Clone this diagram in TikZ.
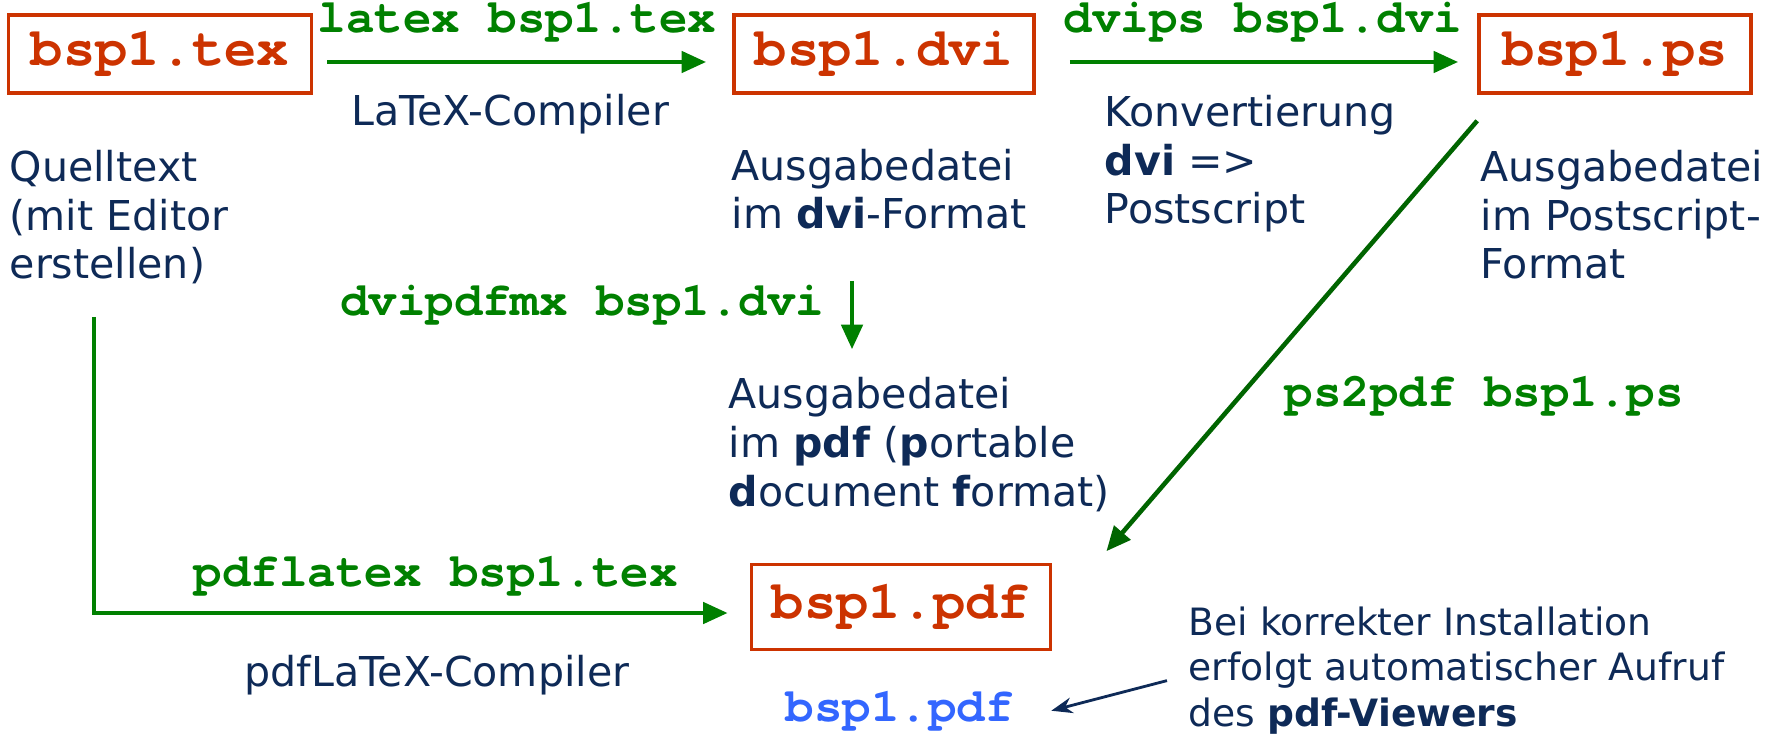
\documentclass[tikz,border=0pt]{standalone}
\usepackage{fontspec}
\setmainfont{DejaVu Sans}
\newfontfamily\cmdfont{texgyrecursor}[Extension=.otf,UprightFont=*-regular,BoldFont=*-bold,Ligatures=NoCommon]
\usetikzlibrary{arrows}
\usetikzlibrary{arrows.meta}
\definecolor{fileRed}{RGB}{204,51,0}
\definecolor{cmdGreen}{RGB}{0,128,0}
\definecolor{psGreen}{RGB}{0,100,0}
\definecolor{descNavy}{RGB}{14,42,87}
\definecolor{viewBlue}{RGB}{51,102,255}
\tikzset{%
	file/.style={draw=fileRed,line width=1pt,text=fileRed,inner sep=0pt,minimum height=0.78cm,font=\cmdfont\bfseries\fontsize{15.3}{18}\selectfont},
	cmd/.style={text=cmdGreen,inner sep=0pt,font=\cmdfont\bfseries\fontsize{13.5}{16}\selectfont},
	desc/.style={text=descNavy,inner sep=0pt,align=left,anchor=base west,font=\fontsize{11.7}{13.9}\selectfont},
	flow/.style={draw=cmdGreen,line width=1.3pt,-{Triangle[length=7pt,width=6pt]}},
	pointer/.style={draw=descNavy,line width=0.8pt,-{Stealth[length=6pt,width=4.5pt]}},
}
\begin{document}
\begin{tikzpicture}[x=0.01cm,y=-0.01cm]
	\useasboundingbox (0,0) rectangle (1777,734);
	
	%dateien
	\node[file,minimum width=3.03cm] (tex) at (160,54) {bsp1.tex};
	\node[file,minimum width=3.00cm] (dvi) at (884,54) {bsp1.dvi};
	\node[file,minimum width=2.72cm] (ps) at (1615,54) {bsp1.ps};
	\node[file,minimum width=2.99cm,minimum height=0.85cm] (pdf) at (901,607) {bsp1.pdf};
	
	%beschreibungen (base = letzte zeile)
	\node[desc] (texdesc) at (9,279) {Quelltext\\(mit Editor\\erstellen)};
	\node[desc] (dvidesc) at (731,229) {Ausgabedatei\\im \textbf{dvi}-Format};
	\node[desc] (psdesc) at (1480,279) {Ausgabedatei\\im Postscript-\\Format};
	\node[desc] (convdesc) at (1104,224) {Konvertierung\\\textbf{dvi} =>\\Postscript};
	\node[desc] (pdfdesc) at (728,506) {Ausgabedatei\\im \textbf{pdf} (\textbf{p}ortable\\\textbf{d}ocument \textbf{f}ormat)};
	\node[desc,anchor=base] (latexcomp) at (510,126) {LaTeX-Compiler};
	\node[desc] (pdflatexcomp) at (244,686) {pdfLaTeX-Compiler};
	
	%befehle
	\node[cmd,anchor=base] (latexcmd) at (517,33) {latex bsp1.tex};
	\node[cmd,anchor=base] (dvipscmd) at (1263,33) {dvips bsp1.dvi};
	\node[cmd,anchor=base east] (dvipdfcmd) at (825,316) {dvipdfmx bsp1.dvi};
	\node[cmd,anchor=base west] (ps2pdfcmd) at (1284,407) {ps2pdf bsp1.ps};
	\node[cmd,anchor=base west] (pdflatexcmd) at (193,586) {pdflatex bsp1.tex};
	
	%viewer
	\node[cmd,text=viewBlue,anchor=base west] (view) at (785,721) {bsp1.pdf};
	\node[desc,font=\fontsize{10.7}{12.8}\selectfont] (note) at (1188,726) {Bei korrekter Installation\\erfolgt automatischer Aufruf\\des \textbf{pdf-Viewers}};
	
	%pfeile
	\coordinate (dvidown) at (852,281);
	\coordinate (srcdown) at (94,317);
	\draw[flow,shorten <=0.14cm,shorten >=0.26cm] ([yshift=-0.08cm]tex.east) -- ([yshift=-0.08cm]dvi.west);
	\draw[flow,shorten <=0.34cm,shorten >=0.19cm] ([yshift=-0.08cm]dvi.east) -- ([yshift=-0.08cm]ps.west);
	\draw[flow,shorten >=0.27cm] (dvidown) -- (dvidown |- pdfdesc.north);
	\draw[flow,draw=psGreen] ([yshift=-0.26cm]ps.south west) -- ([shift={(0.54cm,0.115cm)}]pdf.north east);
	\draw[flow,shorten >=0.22cm] (srcdown) |- ([yshift=-0.06cm]pdf.west);
	\draw[pointer] ([shift={(-0.21cm,-0.1cm)}]note.west) -- ([xshift=0.37cm]view.east);
\end{tikzpicture}
\end{document}
